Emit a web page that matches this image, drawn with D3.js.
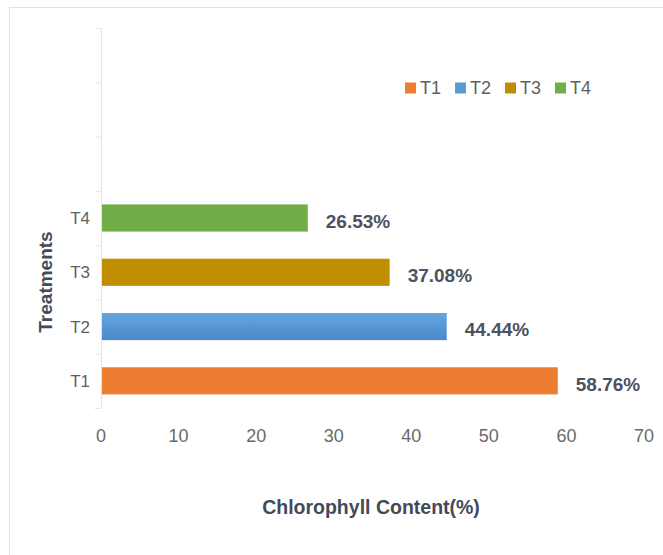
<!DOCTYPE html>
<html>
<head>
<meta charset="utf-8">
<script src="https://cdn.jsdelivr.net/npm/d3@7"></script>
<style>
  body { margin: 0; background: #fff; }
  svg text { font-family: "Liberation Sans", Arial, sans-serif; }
</style>
</head>
<body>
<div id="chart"></div>
<script>
// data
var slots = ["", " ", "  ", "T4", "T3", "T2", "T1"];   // 3 empty bands on top
var treatments = ["T1", "T2", "T3", "T4"];
var chlorophyll = [58.76, 44.44, 37.08, 26.53];
var valueLabels = ["58.76%", "44.44%", "37.08%", "26.53%"];
var barColors = ["#ED7D31", "#5B9BD5", "#BF8F00", "#70AD47"];
var xTicks = [0, 10, 20, 30, 40, 50, 60, 70];

var W = 663, H = 555;
var margin = {top: 28, right: 20, bottom: 147, left: 101};
var width = 644 - margin.left, height = 408 - margin.top;

var svg = d3.select("#chart").append("svg").attr("width", W).attr("height", H);

// frame
svg.append("rect").attr("x", 9.5).attr("y", 7.5).attr("width", 670).attr("height", 570)
    .attr("fill", "none").attr("stroke", "#e2e2e2");

var g = svg.append("g").attr("transform", "translate(" + margin.left + "," + margin.top + ")");

var x = d3.scaleLinear().domain([0, 70]).range([0, width]);
var y = d3.scaleBand().domain(slots).range([0, height]).paddingInner(0.5).paddingOuter(0.25);

// y axis line + ticks between bands
g.append("line").attr("x1", 0.5).attr("x2", 0.5).attr("y1", 0).attr("y2", height)
    .attr("stroke", "#e4e4e4");
var step = y.step();
g.selectAll(".ytick").data(d3.range(slots.length + 1)).enter().append("line")
    .attr("x1", -6).attr("x2", 0)
    .attr("y1", function(i){ return i * step + 0.5; })
    .attr("y2", function(i){ return i * step + 0.5; })
    .attr("stroke", "#e4e4e4");

// category labels
g.selectAll(".ylab").data(treatments).enter().append("text")
    .attr("x", -11)
    .attr("y", function(d){ return y(d) + y.bandwidth() / 2; })
    .attr("dy", "0.35em")
    .attr("text-anchor", "end")
    .attr("font-size", 17).attr("fill", "#5f5f5f")
    .text(function(d){ return d; });

// x tick labels
g.selectAll(".xlab").data(xTicks).enter().append("text")
    .attr("x", function(d){ return x(d); })
    .attr("y", height + 34)
    .attr("text-anchor", "middle")
    .attr("font-size", 18).attr("fill", "#6a6a6a")
    .text(function(d){ return d; });

// blue bar has a light gradient
var grad = svg.append("defs").append("linearGradient").attr("id", "blueGrad")
    .attr("x1", 0).attr("y1", 0).attr("x2", 0).attr("y2", 1);
grad.append("stop").attr("offset", "0%").attr("stop-color", "#65a6e0");
grad.append("stop").attr("offset", "100%").attr("stop-color", "#4a88c8");

// bars
g.selectAll(".bar").data(treatments).enter().append("rect")
    .attr("x", x(0) + 1)
    .attr("y", function(d){ return y(d); })
    .attr("width", function(d, i){ return x(chlorophyll[i]) - x(0); })
    .attr("height", y.bandwidth())
    .attr("fill", function(d, i){ return d == "T2" ? "url(#blueGrad)" : barColors[i]; });

// value labels
g.selectAll(".val").data(treatments).enter().append("text")
    .attr("x", function(d, i){ return x(chlorophyll[i]) + 19; })
    .attr("y", function(d){ return y(d) + y.bandwidth() / 2 + 3; })
    .attr("dy", "0.35em")
    .attr("font-size", 19).attr("font-weight", "bold").attr("fill", "#4b5262")
    .text(function(d, i){ return valueLabels[i]; });

// axis titles
svg.append("text").attr("x", 371).attr("y", 514).attr("text-anchor", "middle")
    .attr("font-size", 19.5).attr("font-weight", "bold").attr("fill", "#434a59")
    .text("Chlorophyll Content(%)");
svg.append("text").attr("transform", "translate(52,282) rotate(-90)")
    .attr("text-anchor", "middle")
    .attr("font-size", 19).attr("font-weight", "bold").attr("fill", "#434a59")
    .text("Treatments");

// legend
var legend = svg.append("g").attr("transform", "translate(405,88)");
var lx = 0;
treatments.forEach(function(t, i){
  var item = legend.append("g").attr("transform", "translate(" + lx + ",0)");
  item.append("rect").attr("x", 0).attr("y", -5.5).attr("width", 11).attr("height", 11)
      .attr("fill", barColors[i]);
  item.append("text").attr("x", 15).attr("dy", "0.35em")
      .attr("font-size", 18).attr("fill", "#5f5f5f").text(t);
  lx += 50;
});
</script>
</body>
</html>
